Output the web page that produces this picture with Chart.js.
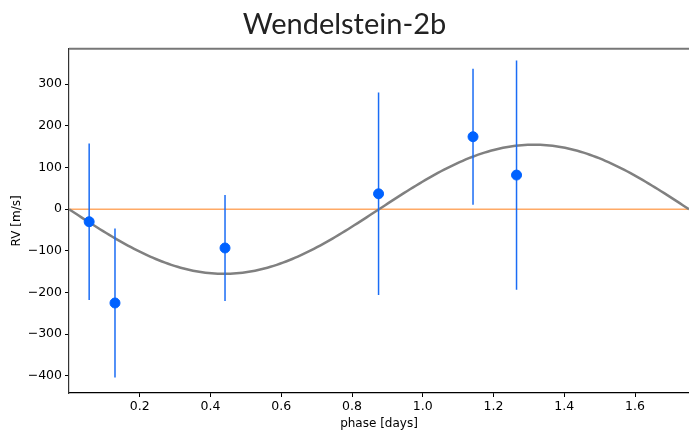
<!DOCTYPE html>
<html>
<head>
<meta charset="utf-8">
<script src="https://cdn.jsdelivr.net/npm/chart.js@4"></script>
<style>
  html, body { margin: 0; padding: 0; background: #fff; }
  #wrap { width: 689px; height: 430px; }
</style>
</head>
<body>
<div id="wrap"><canvas id="rv"></canvas></div>
<script>
// RV measurements folded on the orbital period
const phase = [0.057, 0.130, 0.441, 0.875, 1.142, 1.265];
const rv = [-30, -225, -93, 37, 174, 82];
const rvErr = [188, 179, 127, 243, 163, 275];

// circular orbit fit
const period = 1.7525;   // days
const K = 155;           // m/s

const xTicks = [0.2, 0.4, 0.6, 0.8, 1.0, 1.2, 1.4, 1.6];
const yTicks = [-400, -300, -200, -100, 0, 100, 200, 300];

// model curve sampled over one period
var model = [];
for (let i = 0; i <= 200; i++) {
    const t = period * i / 200;
    model.push({ x: t, y: -K * Math.sin(2 * Math.PI * t / period) });
}

// error bars as separate segments, split by null gaps
var bars = [];
for (let i = 0; i < phase.length; i++) {
    bars.push({ x: phase[i], y: rv[i] - rvErr[i] });
    bars.push({ x: phase[i], y: rv[i] + rvErr[i] });
    bars.push({ x: phase[i], y: null });
}

const points = phase.map((p, i) => ({ x: p, y: rv[i] }));

// top spine
const frame = {
    id: 'frame',
    afterDraw(chart) {
        const a = chart.chartArea, ctx = chart.ctx;
        ctx.save();
        ctx.strokeStyle = '#777';
        ctx.lineWidth = 2;
        ctx.beginPath();
        ctx.moveTo(a.left, a.top);
        ctx.lineTo(a.right, a.top);
        ctx.stroke();
        ctx.restore();
    }
};

const tickFont = { family: 'DejaVu Sans', size: 12.5 };

new Chart(document.getElementById('rv'), {
    type: 'scatter',
    data: {
        datasets: [
            {
                label: 'zero',
                type: 'line',
                data: [{ x: 0, y: 0 }, { x: period, y: 0 }],
                borderColor: '#ffaa66',
                borderWidth: 1.4,
                pointRadius: 0,
                order: 4
            },
            {
                label: 'model',
                type: 'line',
                data: model,
                borderColor: '#808080',
                borderWidth: 2.5,
                pointRadius: 0,
                order: 3
            },
            {
                label: 'errors',
                type: 'line',
                data: bars,
                borderColor: '#1a6cf5',
                borderWidth: 1.5,
                pointRadius: 0,
                spanGaps: false,
                order: 2
            },
            {
                label: 'RV',
                data: points,
                backgroundColor: '#0062ff',
                borderColor: '#0062ff',
                pointRadius: 5,
                order: 1
            }
        ]
    },
    options: {
        responsive: true,
        maintainAspectRatio: false,
        animation: false,
        layout: { autoPadding: false, padding: 0 },
        plugins: {
            legend: { display: false },
            tooltip: { enabled: false },
            title: {
                display: true,
                text: 'Wendelstein-2b',
                color: '#222',
                font: { family: 'Lato', size: 29, weight: 'normal', lineHeight: 1.2 },
                padding: { top: 7, bottom: 7 }
            }
        },
        scales: {
            x: {
                type: 'linear',
                min: 0,
                max: period,
                afterBuildTicks: s => { s.ticks = xTicks.map(v => ({ value: v })); },
                afterFit: s => { s.height = 37; },
                grid: { drawOnChartArea: false, tickLength: 4, tickColor: '#000' },
                border: { color: '#000', width: 1.2 },
                ticks: {
                    color: '#000',
                    font: tickFont,
                    padding: 2,
                    maxRotation: 0,
                    callback: v => v.toFixed(1)
                },
                title: {
                    display: true,
                    text: 'phase [days]',
                    color: '#000',
                    font: { family: 'DejaVu Sans', size: 12, lineHeight: 1 },
                    padding: { top: 0, bottom: 0 }
                }
            },
            y: {
                min: -441,
                max: 385,
                afterBuildTicks: s => { s.ticks = yTicks.map(v => ({ value: v })); },
                afterFit: s => { s.width = 69; },
                grid: { drawOnChartArea: false, tickLength: 4, tickColor: '#000' },
                border: { color: '#333', width: 1.2 },
                ticks: {
                    color: '#000',
                    font: tickFont,
                    padding: 3,
                    callback: v => (v < 0 ? '\u2212' + Math.abs(v) : '' + v)
                },
                title: {
                    display: true,
                    text: 'RV [m/s]',
                    color: '#000',
                    font: { family: 'DejaVu Sans', size: 12, lineHeight: 1.2 },
                    padding: { top: 10, bottom: 0 }
                }
            }
        }
    },
    plugins: [frame]
});
</script>
</body>
</html>
